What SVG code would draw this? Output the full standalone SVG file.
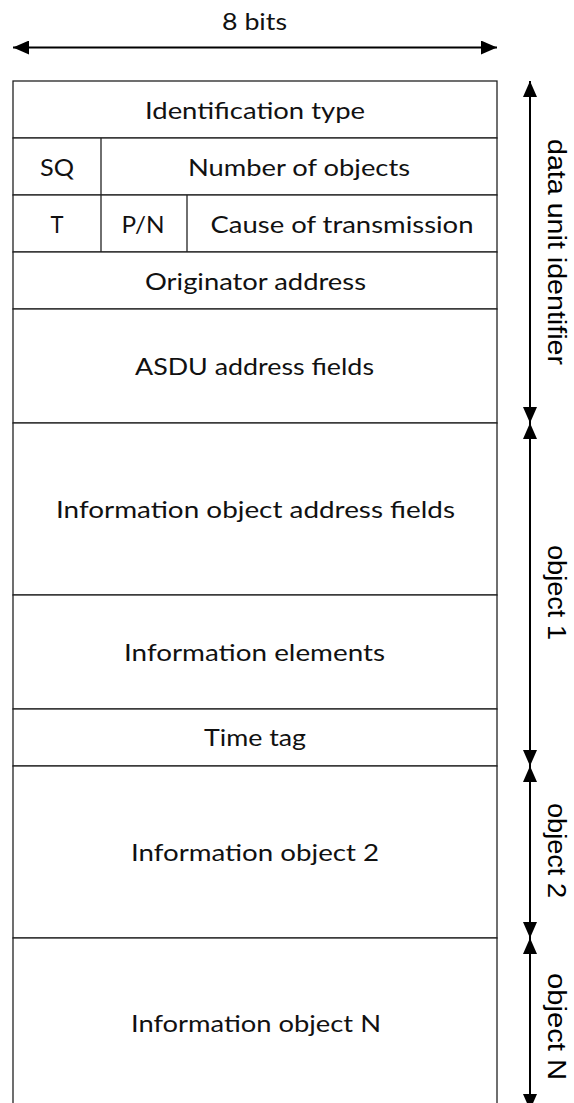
<svg xmlns="http://www.w3.org/2000/svg" width="574" height="1103" viewBox="0 0 574 1103">
<defs>
<marker id="ah" markerWidth="16" markerHeight="14" refX="16" refY="7" orient="auto-start-reverse" markerUnits="userSpaceOnUse">
<path d="M0,0 L16,7 L0,14 Z" fill="#000"/>
</marker>
<style>
.cell{fill:#fff;stroke:#222;stroke-width:1.3}
.div{stroke:#222;stroke-width:1.3}
.t{font-family:Lato,"Open Sans","Liberation Sans",sans-serif;font-size:23px;fill:#111;text-anchor:middle}
.lab{font-family:"Liberation Sans",Arial,sans-serif;font-size:25px;fill:#000;text-anchor:middle}
.arr{stroke:#000;stroke-width:2;fill:none;marker-start:url(#ah);marker-end:url(#ah)}
</style>
</defs>
<rect width="574" height="1103" fill="#fff"/>

<g id="width-label">
<text class="t" x="254.5" y="29.5" textLength="65" lengthAdjust="spacingAndGlyphs">8 bits</text>
</g>

<g id="identification-type">
<rect class="cell" x="13" y="81" width="484" height="57"/>
<text class="t" x="255" y="119" textLength="220" lengthAdjust="spacingAndGlyphs">Identification type</text>
</g>
<g id="sq-row">
<rect class="cell" x="13" y="138" width="484" height="57"/>
<line class="div" x1="101" y1="138" x2="101" y2="195"/>
<text class="t" x="57" y="176" textLength="34" lengthAdjust="spacingAndGlyphs">SQ</text>
<text class="t" x="299" y="176" textLength="222" lengthAdjust="spacingAndGlyphs">Number of objects</text>
</g>
<g id="cot-row">
<rect class="cell" x="13" y="195" width="484" height="57"/>
<line class="div" x1="101" y1="195" x2="101" y2="252"/>
<line class="div" x1="187" y1="195" x2="187" y2="252"/>
<text class="t" x="57" y="233" textLength="13" lengthAdjust="spacingAndGlyphs">T</text>
<text class="t" x="143" y="233" textLength="43" lengthAdjust="spacingAndGlyphs">P/N</text>
<text class="t" x="342" y="233" textLength="263" lengthAdjust="spacingAndGlyphs">Cause of transmission</text>
</g>
<g id="originator-address">
<rect class="cell" x="13" y="252" width="484" height="57"/>
<text class="t" x="255.5" y="290" textLength="221" lengthAdjust="spacingAndGlyphs">Originator address</text>
</g>
<g id="asdu-address">
<rect class="cell" x="13" y="309" width="484" height="114"/>
<text class="t" x="254.5" y="375" textLength="239" lengthAdjust="spacingAndGlyphs">ASDU address fields</text>
</g>
<g id="ioa-fields">
<rect class="cell" x="13" y="423" width="484" height="172"/>
<text class="t" x="255.5" y="518" textLength="399" lengthAdjust="spacingAndGlyphs">Information object address fields</text>
</g>
<g id="info-elements">
<rect class="cell" x="13" y="595" width="484" height="114"/>
<text class="t" x="254.5" y="661" textLength="261" lengthAdjust="spacingAndGlyphs">Information elements</text>
</g>
<g id="time-tag">
<rect class="cell" x="13" y="709" width="484" height="57"/>
<text class="t" x="255" y="746" textLength="102" lengthAdjust="spacingAndGlyphs">Time tag</text>
</g>
<g id="info-object-2">
<rect class="cell" x="13" y="766" width="484" height="172"/>
<text class="t" x="255" y="861" textLength="248" lengthAdjust="spacingAndGlyphs">Information object 2</text>
</g>
<g id="info-object-n">
<rect class="cell" x="13" y="938" width="484" height="180"/>
<text class="t" x="256" y="1032" textLength="250" lengthAdjust="spacingAndGlyphs">Information object N</text>
</g>

<g id="connectors">
<line class="arr" x1="13" y1="47.5" x2="497" y2="47.5"/>
<line class="arr" x1="530" y1="81" x2="530" y2="423"/>
<line class="arr" x1="530" y1="423" x2="530" y2="766"/>
<line class="arr" x1="530" y1="766" x2="530" y2="938"/>
<line class="arr" x1="530" y1="938" x2="530" y2="1110"/>
</g>

<g id="side-labels">
<text class="lab" transform="translate(548,252) rotate(90)" textLength="226" lengthAdjust="spacingAndGlyphs">data unit identifier</text>
<text class="lab" transform="translate(548,592.5) rotate(90)" textLength="95" lengthAdjust="spacingAndGlyphs">object 1</text>
<text class="lab" transform="translate(548,850.5) rotate(90)" textLength="95" lengthAdjust="spacingAndGlyphs">object 2</text>
<text class="lab" transform="translate(548,1026.5) rotate(90)" textLength="107" lengthAdjust="spacingAndGlyphs">object N</text>
</g>
</svg>
